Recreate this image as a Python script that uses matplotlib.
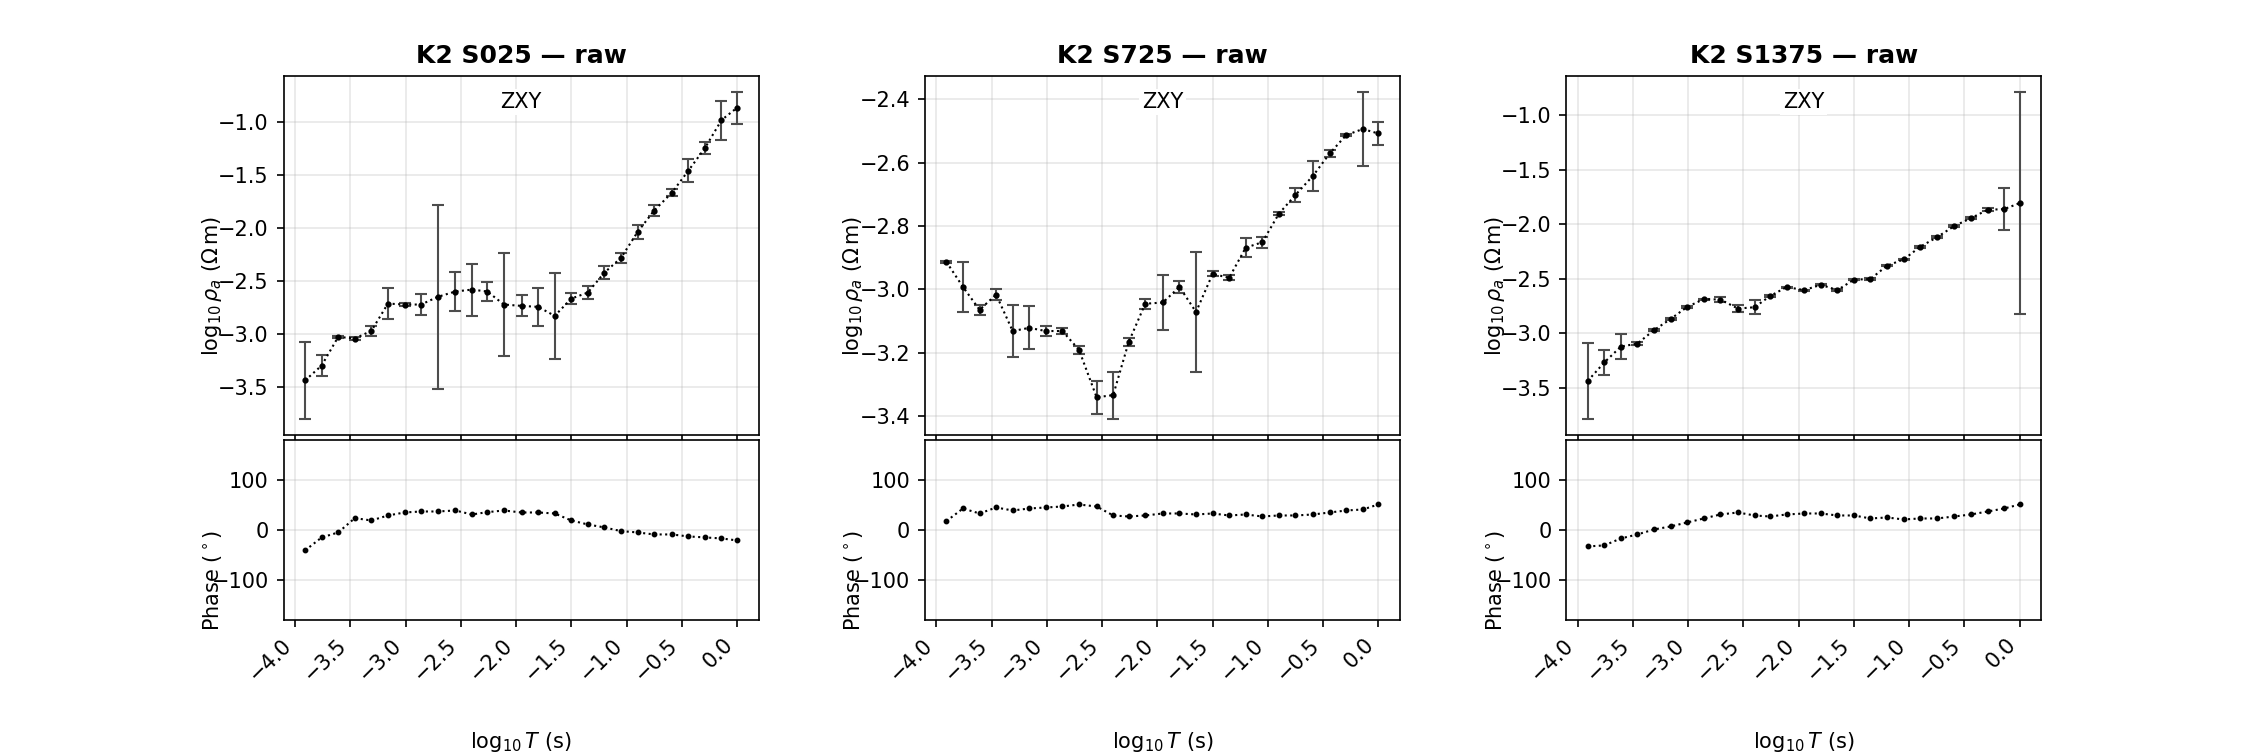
import numpy as np
import matplotlib
matplotlib.use("Agg")
import matplotlib.pyplot as plt
from matplotlib.ticker import MultipleLocator

# log10 period (s), same for every station
log_t = [-3.91, -3.76, -3.61, -3.46, -3.31, -3.16, -3.01, -2.86, -2.71,
         -2.55, -2.40, -2.26, -2.11, -1.95, -1.80, -1.65, -1.50, -1.35,
         -1.20, -1.05, -0.90, -0.75, -0.59, -0.44, -0.29, -0.14, 0.00]

stations = ["K2 S025", "K2 S725", "K2 S1375"]

# log10 apparent resistivity, ZXY
rho_s025 = [-3.437, -3.296, -3.025, -3.041, -2.969, -2.711, -2.720, -2.720, -2.648,
            -2.597, -2.579, -2.597, -2.720, -2.733, -2.742, -2.827, -2.664, -2.607,
            -2.418, -2.280, -2.035, -1.833, -1.664, -1.456, -1.242, -0.978, -0.862]
err_s025 = [0.360, 0.100, 0.010, 0.015, 0.044, 0.145, 0.010, 0.100, 0.870,
            0.185, 0.245, 0.090, 0.485, 0.100, 0.180, 0.405, 0.050, 0.060,
            0.060, 0.045, 0.065, 0.055, 0.035, 0.110, 0.056, 0.185, 0.150]

rho_s725 = [-2.913, -2.992, -3.064, -3.016, -3.131, -3.121, -3.131, -3.131, -3.190,
            -3.340, -3.333, -3.166, -3.045, -3.041, -2.992, -3.071, -2.951, -2.963,
            -2.868, -2.851, -2.761, -2.702, -2.641, -2.571, -2.513, -2.494, -2.508]
err_s725 = [0.004, 0.078, 0.015, 0.016, 0.083, 0.068, 0.016, 0.010, 0.012,
            0.052, 0.074, 0.012, 0.015, 0.087, 0.018, 0.190, 0.008, 0.008,
            0.031, 0.017, 0.005, 0.023, 0.047, 0.010, 0.004, 0.117, 0.037]

rho_s1375 = [-3.436, -3.266, -3.121, -3.093, -2.970, -2.868, -2.757, -2.686, -2.689,
             -2.772, -2.760, -2.658, -2.575, -2.603, -2.554, -2.603, -2.507, -2.501,
             -2.378, -2.322, -2.205, -2.119, -2.014, -1.943, -1.866, -1.860, -1.805]
err_s1375 = [0.345, 0.117, 0.117, 0.010, 0.010, 0.010, 0.008, 0.005, 0.020,
             0.030, 0.065, 0.010, 0.005, 0.005, 0.005, 0.010, 0.005, 0.005,
             0.007, 0.007, 0.007, 0.010, 0.007, 0.010, 0.012, 0.190, 1.020]

# phase (degrees)
phs_s025 = [-40.7, -14.7, -4.7, 24.0, 19.3, 29.3, 35.3, 37.3, 37.3,
            39.3, 31.3, 36.0, 39.3, 35.3, 35.3, 33.3, 19.3, 11.3,
            5.3, -2.0, -4.7, -8.7, -8.7, -12.7, -14.7, -16.7, -20.7]
phs_s725 = [18.0, 43.3, 33.3, 45.3, 39.3, 43.3, 45.3, 47.3, 51.3,
            47.3, 29.3, 27.3, 29.3, 33.3, 33.3, 31.3, 33.3, 29.3,
            31.3, 27.3, 29.3, 29.3, 31.3, 35.3, 39.3, 41.3, 51.3]
phs_s1375 = [-32.7, -30.7, -16.7, -8.7, 1.3, 7.3, 15.3, 23.3, 31.3,
             35.3, 29.3, 27.3, 31.3, 33.3, 33.3, 29.3, 29.3, 23.3,
             25.3, 21.3, 23.3, 23.3, 27.3, 31.3, 37.3, 43.3, 51.3]

rhos = [rho_s025, rho_s725, rho_s1375]
errs = [err_s025, err_s725, err_s1375]
phases = [phs_s025, phs_s725, phs_s1375]

fig = plt.figure(figsize=(15.12, 5.04), dpi=150)
gs = fig.add_gridspec(2, 3, height_ratios=[2, 1], left=0.125, right=0.9,
                      top=0.9, bottom=0.18, wspace=0.35, hspace=0.02)

for i, name in enumerate(stations):
    ax = fig.add_subplot(gs[0, i])
    axp = fig.add_subplot(gs[1, i], sharex=ax)

    ax.errorbar(log_t, rhos[i], yerr=errs[i], fmt="o:", color="k", ms=2,
                lw=1, ecolor="0.3", elinewidth=1, capsize=3)
    ax.set_title(f"{name} \u2014 raw", fontweight="bold")
    ax.text(0.5, 0.955, "ZXY", transform=ax.transAxes, ha="center", va="top",
            bbox=dict(facecolor="white", edgecolor="none", pad=1.5))
    ax.set_ylabel(r"$\log_{10}\rho_a$ ($\Omega\,\mathrm{m}$)")
    ax.yaxis.set_label_coords(-0.125, 0.415)
    ax.grid(True, alpha=0.3)
    ax.tick_params(labelbottom=False)

    axp.plot(log_t, phases[i], "o:", color="k", ms=1.8, lw=1)
    axp.set_ylim(-180, 180)
    axp.set_yticks([-100, 0, 100])
    axp.set_ylabel(r"Phase ($^\circ$)")
    axp.yaxis.set_label_coords(-0.125, 0.22)
    axp.grid(True, alpha=0.3)
    axp.xaxis.set_major_locator(MultipleLocator(0.5))
    axp.set_xlabel(r"$\log_{10}T$ (s)", labelpad=22)
    plt.setp(axp.get_xticklabels(), rotation=45, ha="right")

fig.savefig("out.png", dpi=150)
